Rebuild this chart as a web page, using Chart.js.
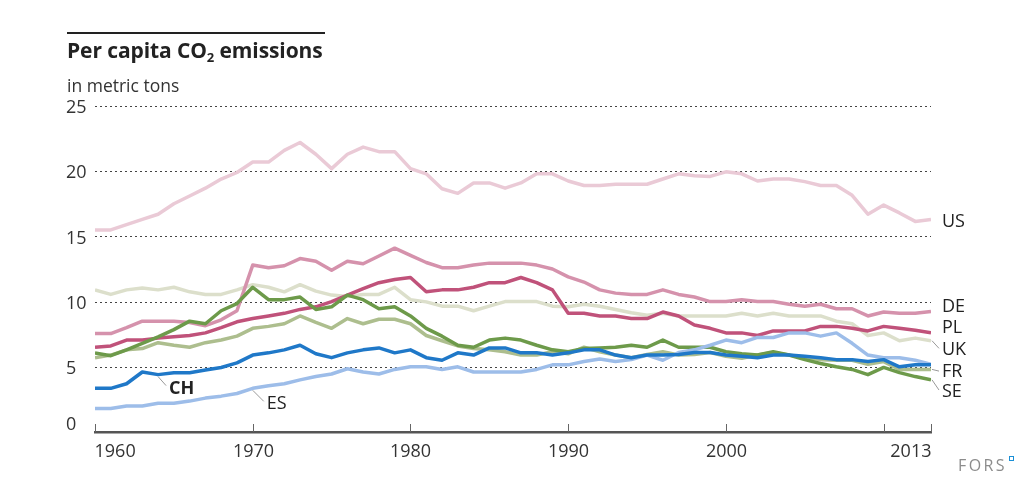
<!DOCTYPE html>
<html lang="en">
<head>
<meta charset="UTF-8" />
<title>Per capita CO2 emissions</title>
<script src="https://cdn.jsdelivr.net/npm/chart.js"></script>
<style>
  html, body { margin: 0; padding: 0; background: #fff; }
  body { width: 1035px; height: 491px; position: relative; overflow: hidden;
         font-family: "Open Sans", sans-serif; color: #222; }
  #chartBox { position: absolute; left: 0; top: 0; width: 1035px; height: 491px; }
  #rule { position: absolute; left: 67px; top: 32px; width: 258px; height: 2px; background: #222; }
  #title { position: absolute; left: 67px; top: 37px; font-size: 21px; font-weight: bold; line-height: 27px; white-space: nowrap; letter-spacing: -0.1px; }
  #title sub { font-size: 13px; line-height: 0; vertical-align: -4px; }
  #unit { position: absolute; left: 67px; top: 73px; font-size: 17.5px; line-height: 24px; color: #333; }
  #fors { position: absolute; left: 958px; top: 455px; font-size: 16px; letter-spacing: 2.4px; color: #8c8c8c; line-height: 20px; }
  #fors i { position: absolute; right: -7px; top: 1px; width: 3px; height: 3px; border: 1.5px solid #1a8fd6; }
</style>
</head>
<body>
<div id="chartBox"><canvas id="co2Chart"></canvas></div>
<div id="rule"></div>
<div id="title">Per capita CO<sub>2</sub> emissions</div>
<div id="unit">in metric tons</div>
<div id="fors">FORS<i></i></div>

<script>
// years 1960 - 2013
const years = [];
for (let y = 1960; y <= 2013; y++) years.push(y);

const xTickYears = [1960, 1970, 1980, 1990, 2000, 2010, 2013];
const xTickLabels = ['1960', '1970', '1980', '1990', '2000', '', '2013'];
const yTicks = [0, 5, 10, 15, 20, 25];

// per capita CO2, metric tons
const us = [15.5, 15.5, 15.9, 16.3, 16.7, 17.5, 18.1, 18.7, 19.4, 19.9,
            20.7, 20.7, 21.6, 22.2, 21.3, 20.2, 21.3, 21.85, 21.5, 21.5,
            20.2, 19.8, 18.65, 18.3, 19.1, 19.1, 18.7, 19.1, 19.8, 19.8,
            19.25, 18.9, 18.9, 19.0, 19.0, 19.0, 19.4, 19.8, 19.65, 19.6,
            19.95, 19.8, 19.25, 19.4, 19.4, 19.2, 18.9, 18.9, 18.15, 16.7,
            17.4, 16.8, 16.15, 16.3];
const de = [7.55, 7.55, 8.0, 8.5, 8.5, 8.5, 8.4, 8.15, 8.6, 9.3,
            12.8, 12.6, 12.75, 13.3, 13.1, 12.4, 13.1, 12.9, 13.5, 14.1,
            13.55, 13.0, 12.6, 12.6, 12.8, 12.95, 12.95, 12.95, 12.8, 12.5,
            11.9, 11.5, 10.9, 10.65, 10.55, 10.55, 10.9, 10.55, 10.35, 10.0,
            10.0, 10.15, 10.0, 10.0, 9.8, 9.65, 9.8, 9.45, 9.45, 8.9,
            9.2, 9.1, 9.1, 9.25];
const pl = [6.5, 6.6, 7.05, 7.05, 7.2, 7.3, 7.4, 7.6, 8.0, 8.45,
            8.7, 8.9, 9.1, 9.4, 9.6, 10.0, 10.5, 11.0, 11.45, 11.7,
            11.85, 10.75, 10.9, 10.9, 11.1, 11.45, 11.45, 11.85, 11.45, 10.9,
            9.1, 9.1, 8.9, 8.9, 8.7, 8.7, 9.2, 8.9, 8.2, 7.95,
            7.6, 7.6, 7.4, 7.75, 7.75, 7.75, 8.1, 8.1, 7.95, 7.75,
            8.1, 7.95, 7.8, 7.6];
const uk = [10.9, 10.55, 10.9, 11.05, 10.9, 11.1, 10.75, 10.55, 10.55, 10.9,
            11.3, 11.1, 10.75, 11.3, 10.8, 10.5, 10.4, 10.55, 10.55, 11.1,
            10.15, 9.98, 9.65, 9.65, 9.3, 9.65, 10.0, 10.0, 10.0, 9.65,
            9.6, 9.8, 9.65, 9.4, 9.15, 8.95, 9.1, 8.9, 8.9, 8.9,
            8.9, 9.1, 8.9, 9.1, 8.9, 8.9, 8.9, 8.5, 8.3, 7.4,
            7.6, 7.0, 7.2, 7.0];
const fr = [5.7, 5.9, 6.3, 6.4, 6.85, 6.65, 6.5, 6.85, 7.05, 7.35,
            7.95, 8.1, 8.3, 8.9, 8.4, 7.95, 8.7, 8.3, 8.65, 8.65,
            8.3, 7.4, 7.0, 6.6, 6.4, 6.3, 6.15, 5.9, 5.9, 6.15,
            6.0, 6.5, 6.15, 5.9, 5.7, 5.95, 6.15, 5.9, 5.95, 6.1,
            5.8, 5.65, 5.9, 6.1, 5.9, 5.7, 5.55, 5.5, 5.5, 5.2,
            5.4, 4.8, 4.8, 4.8];
const se = [6.07, 5.85, 6.3, 6.8, 7.3, 7.85, 8.5, 8.3, 9.3, 9.85,
            11.1, 10.15, 10.15, 10.35, 9.4, 9.6, 10.5, 10.15, 9.45, 9.6,
            8.9, 7.95, 7.35, 6.65, 6.5, 7.05, 7.2, 7.05, 6.65, 6.3,
            6.15, 6.4, 6.45, 6.5, 6.65, 6.5, 7.05, 6.5, 6.5, 6.5,
            6.15, 6.0, 5.9, 6.15, 5.9, 5.55, 5.25, 5.0, 4.8, 4.4,
            4.95, 4.55, 4.25, 4.0];
const ch = [3.35, 3.35, 3.7, 4.6, 4.4, 4.55, 4.55, 4.75, 4.95, 5.3,
            5.9, 6.07, 6.3, 6.65, 6.0, 5.7, 6.07, 6.3, 6.45, 6.07,
            6.3, 5.7, 5.5, 6.07, 5.9, 6.45, 6.45, 6.07, 6.07, 5.9,
            6.07, 6.3, 6.3, 5.9, 5.7, 5.9, 5.9, 5.95, 6.1, 6.1,
            5.9, 5.8, 5.7, 5.9, 5.9, 5.8, 5.7, 5.55, 5.55, 5.4,
            5.55, 5.0, 5.15, 5.15];
const es = [1.8, 1.8, 2.0, 2.0, 2.2, 2.2, 2.37, 2.6, 2.75, 2.95,
            3.35, 3.55, 3.7, 4.0, 4.25, 4.45, 4.85, 4.6, 4.45, 4.8,
            5.0, 5.0, 4.8, 5.0, 4.6, 4.6, 4.6, 4.6, 4.8, 5.15,
            5.15, 5.4, 5.6, 5.4, 5.55, 5.9, 5.5, 6.1, 6.3, 6.65,
            7.05, 6.85, 7.25, 7.25, 7.6, 7.6, 7.35, 7.6, 6.8, 5.9,
            5.7, 5.7, 5.5, 5.2];

// first in list is drawn on top
const series = [
  { name: 'CH', values: ch, color: '#1f78c8' },
  { name: 'ES', values: es, color: '#9dbde9' },
  { name: 'SE', values: se, color: '#6d9a4a' },
  { name: 'PL', values: pl, color: '#c0527a' },
  { name: 'FR', values: fr, color: '#adbe8e' },
  { name: 'DE', values: de, color: '#d592ac' },
  { name: 'UK', values: uk, color: '#dcdfcb' },
  { name: 'US', values: us, color: '#eacad6' }
];

// label offsets in px from the end of each line, leader = draw a thin line
const endLabels = {
  US: { dy: 2 }, DE: { dy: -5 }, PL: { dy: -5 },
  UK: { dy: 9, leader: true }, FR: { dy: 2, leader: true }, SE: { dy: 12, leader: true }
};
// inline labels: anchored on a year of the line
const inlineLabels = [
  { name: 'CH', year: 1964, dx: 11, dy: 14, bold: true },
  { name: 'ES', year: 1970, dx: 14, dy: 16, bold: false }
];

const FONT = '"Open Sans", sans-serif';

const decor = {
  id: 'decor',
  beforeDatasetsDraw(chart) {
    // dotted horizontal grid
    const ctx = chart.ctx, ys = chart.scales.y, area = chart.chartArea;
    ctx.save();
    ctx.strokeStyle = '#444';
    ctx.lineWidth = 1;
    ctx.setLineDash([2, 3]);
    yTicks.forEach(v => {
      if (v === 0) return;
      const py = Math.round(ys.getPixelForValue(v)) + 0.5;
      ctx.beginPath();
      ctx.moveTo(area.left, py);
      ctx.lineTo(area.right, py);
      ctx.stroke();
    });
    ctx.restore();
  },
  afterDraw(chart) {
    const ctx = chart.ctx;
    const xs = chart.scales.x, ys = chart.scales.y;
    const axisY = ys.getPixelForValue(0);
    ctx.save();

    // y labels
    ctx.fillStyle = '#333';
    ctx.font = '18px ' + FONT;
    ctx.textAlign = 'left';
    ctx.textBaseline = 'middle';
    yTicks.forEach(v => {
      ctx.fillText(String(v), 66, ys.getPixelForValue(v) + (v === 0 ? -7 : 2));
    });

    // x tick marks + labels
    ctx.strokeStyle = '#666';
    ctx.lineWidth = 1;
    xTickYears.forEach((yr, i) => {
      const px = Math.round(xs.getPixelForValue(yr)) + 0.5;
      ctx.beginPath();
      ctx.moveTo(px, axisY - 8);
      ctx.lineTo(px, axisY);
      ctx.stroke();
      const lab = xTickLabels[i];
      if (!lab) return;
      ctx.textAlign = i === 0 ? 'left' : (i === xTickYears.length - 1 ? 'right' : 'center');
      ctx.fillText(lab, px + (i === 0 ? -1 : 0), axisY + 20);
    });

    // end labels
    const last = years.length - 1;
    const endX = xs.getPixelForValue(years[last]);
    ctx.textAlign = 'left';
    series.forEach(s => {
      const cfg = endLabels[s.name];
      if (!cfg) return;
      const py = ys.getPixelForValue(s.values[last]);
      if (cfg.leader) {
        ctx.strokeStyle = '#999';
        ctx.beginPath();
        ctx.moveTo(endX + 1, py);
        ctx.lineTo(endX + 8, py + cfg.dy * 0.85);
        ctx.stroke();
      }
      ctx.fillStyle = '#222';
      ctx.fillText(s.name, endX + 11, py + cfg.dy);
    });

    // inline labels
    inlineLabels.forEach(l => {
      const s = series.find(d => d.name === l.name);
      const i = years.indexOf(l.year);
      const px = xs.getPixelForValue(l.year), py = ys.getPixelForValue(s.values[i]);
      ctx.strokeStyle = '#999';
      ctx.beginPath();
      ctx.moveTo(px, py + 2);
      ctx.lineTo(px + l.dx - 3, py + l.dy - 3);
      ctx.stroke();
      ctx.fillStyle = '#222';
      ctx.font = (l.bold ? 'bold ' : '') + '18px ' + FONT;
      ctx.fillText(l.name, px + l.dx, py + l.dy);
    });

    ctx.restore();
  }
};

new Chart(document.getElementById('co2Chart'), {
  type: 'line',
  data: {
    datasets: series.map(s => ({
      label: s.name,
      data: s.values.map((v, i) => ({ x: years[i], y: v })),
      borderColor: s.color,
      backgroundColor: s.color,
      borderWidth: 3.5,
      pointRadius: 0,
      tension: 0,
      borderJoinStyle: 'round',
      fill: false
    }))
  },
  options: {
    responsive: true,
    maintainAspectRatio: false,
    animation: false,
    layout: { padding: { left: 95, right: 104, top: 106, bottom: 59 } },
    plugins: { legend: { display: false }, tooltip: { enabled: false } },
    scales: {
      x: {
        type: 'linear', min: 1960, max: 2013,
        grid: { display: false, drawTicks: false },
        border: { display: true, color: '#555', width: 2.5 },
        ticks: { display: false }
      },
      y: {
        min: 0, max: 25,
        ticks: { display: false, stepSize: 5 },
        grid: { display: false, drawTicks: false },
        border: { display: false }
      }
    }
  },
  plugins: [decor]
});
</script>
</body>
</html>
